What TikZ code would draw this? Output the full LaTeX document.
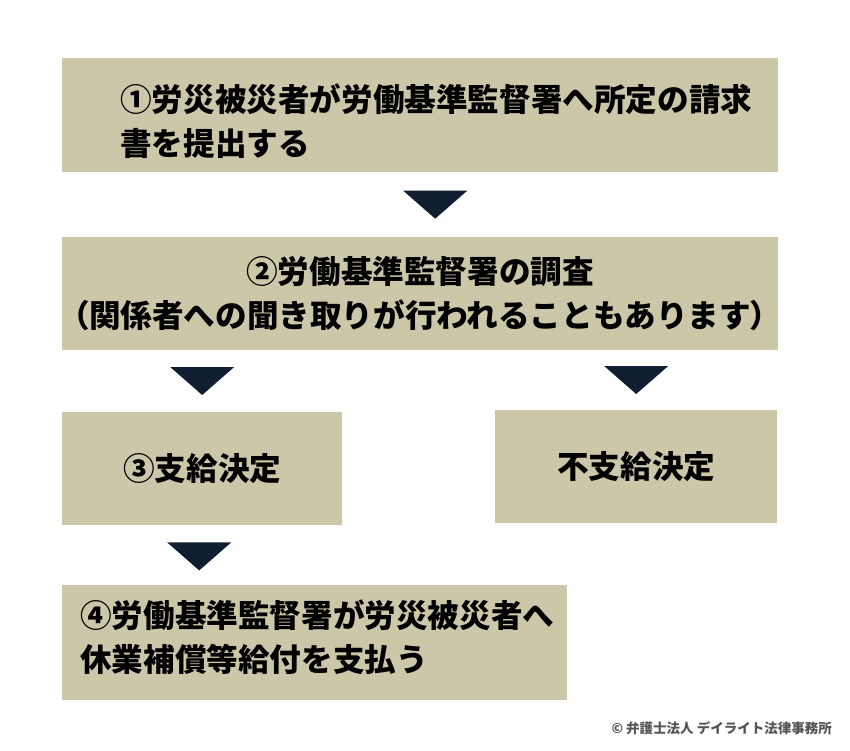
\documentclass[tikz,border=0pt]{standalone}
\usepackage{fontspec}
\newfontfamily\jpfont{Noto Sans CJK JP}
\newfontfamily\jppalt{Noto Sans CJK JP}[RawFeature=+palt]
\usetikzlibrary{calc}
\definecolor{boxtan}{RGB}{205,199,170}
\definecolor{arrownavy}{RGB}{16,30,50}
\definecolor{markgray}{RGB}{85,85,85}
\tikzset{
  stepbox/.style={rectangle,fill=boxtan,draw=none,inner sep=0pt,anchor=north west},
  steptext/.style={inner sep=0pt,text=black,font=\jpfont\bfseries\fontsize{31.6}{44}\selectfont},
  downtri/.pic={\fill[arrownavy] (-32,-14) -- (32,-14) -- (0,14) -- cycle;}
}

\begin{document}
\begin{tikzpicture}[x=1pt,y=-1pt]
  \useasboundingbox (0,0) rectangle (850,750);
  \node[stepbox,minimum width=716pt,minimum height=114pt] (claim) at (62,58) {};
  \node[stepbox,minimum width=716pt,minimum height=113pt] (survey) at (62,237) {};
  \node[stepbox,minimum width=280pt,minimum height=113pt] (payok) at (62,412) {};
  \node[stepbox,minimum width=282pt,minimum height=113pt] (payng) at (495,410) {};
  \node[stepbox,minimum width=505pt,minimum height=115pt] (payout) at (62,585) {};
  % texts
  \node[steptext,anchor=west,align=left] (claimtxt) at (120,121.5)
    {①労災被災者が労働基準監督署へ所定の請求\\書を提出する};
  \node[steptext,align=center] (surveytxt) at (420,293.5)
    {②労働基準監督署の調査\\{\jppalt （}関係者への聞き取りが行われることもあります{\jppalt ）}};
  \node[steptext] (payoktxt) at (payok.center) {③支給決定};
  \node[steptext] (payngtxt) at (payng.center) {不支給決定};
  \node[steptext,anchor=west,align=left] (payouttxt) at (80,637.5)
    {④労働基準監督署が労災被災者へ\\休業補償等給付を支払う};
  % arrows
  \pic at ($(claim.south)!0.5!(survey.north)+(15,0)$) {downtri};
  \pic at ($(payok.north)+(0,-31)$) {downtri};
  \pic at ($(payng.north)+(0,-30)$) {downtri};
  \pic at ($(payok.south)+(-3,31)$) {downtri};
  \node[anchor=east,inner sep=0pt,text=markgray,font=\jpfont\bfseries\fontsize{13.5}{16}\selectfont]
    (mark) at (832,728) {© 弁護士法人 デイライト法律事務所};
\end{tikzpicture}
\end{document}
